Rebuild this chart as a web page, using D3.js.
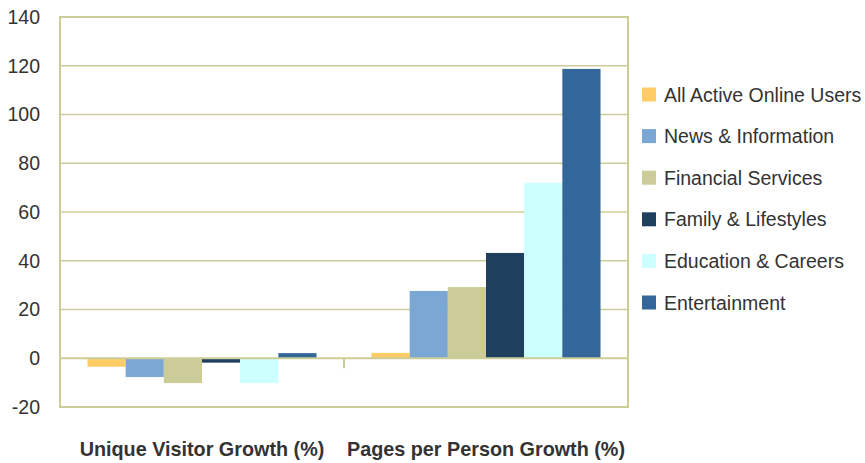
<!DOCTYPE html>
<html>
<head>
<meta charset="utf-8">
<script src="https://cdn.jsdelivr.net/npm/d3@7"></script>
<style>
  body { margin: 0; background: #fff; }
  text { font-family: "Liberation Sans", Arial, sans-serif; fill: #333; }
</style>
</head>
<body>
<script>
var categories = ["Unique Visitor Growth (%)", "Pages per Person Growth (%)"];
var series = ["All Active Online Users", "News & Information", "Financial Services",
              "Family & Lifestyles", "Education & Careers", "Entertainment"];
var colors = ["#FFCC66", "#7BA7D4", "#CCCC99", "#1F3F5F", "#CCFFFF", "#336699"];
// one array per category, in series order
var uniqueVisitor = [-3.5, -7.7, -10.2, -1.8, -10.2, 2.1];
var pagesPerPerson = [2.2, 27.6, 29.2, 43.2, 72, 118.7];
var yTicks = [-20, 0, 20, 40, 60, 80, 100, 120, 140];

var width = 865, height = 463,
    plotLeft = 60, plotRight = 628, plotTop = 17, plotBottom = 407,
    gridColor = "#CCCC99";

var values = [uniqueVisitor, pagesPerPerson];

var svg = d3.select("body").append("svg")
    .attr("width", width)
    .attr("height", height);

var y = d3.scaleLinear()
    .domain([-20, 140])
    .range([plotBottom, plotTop]);

var x0 = d3.scaleBand()
    .domain(categories)
    .range([plotLeft, plotRight]);

var x1 = d3.scaleBand()
    .domain(series)
    .range([0, x0.bandwidth()])
    .paddingOuter(0.72);

var color = d3.scaleOrdinal(series, colors);

// gridlines
svg.append("g")
    .attr("class", "grid")
    .selectAll("line")
    .data(yTicks.filter(function(d) { return d !== 0 && d !== -20 && d !== 140; }))
  .enter().append("line")
    .attr("x1", plotLeft)
    .attr("x2", plotRight)
    .attr("y1", function(d) { return y(d); })
    .attr("y2", function(d) { return y(d); })
    .attr("stroke", gridColor)
    .attr("stroke-width", 1.5);

// bars
var group = svg.selectAll(".group")
    .data(categories)
  .enter().append("g")
    .attr("class", "group")
    .attr("transform", function(d) { return "translate(" + x0(d) + ",0)"; });

group.selectAll("rect")
    .data(function(d, i) {
      return series.map(function(s, j) { return {series: s, value: values[i][j]}; });
    })
  .enter().append("rect")
    .attr("x", function(d) { return x1(d.series); })
    .attr("width", x1.bandwidth())
    .attr("y", function(d) { return y(Math.max(0, d.value)); })
    .attr("height", function(d) { return Math.abs(y(d.value) - y(0)); })
    .attr("fill", function(d) { return color(d.series); });

// frame
svg.append("rect")
    .attr("x", plotLeft)
    .attr("y", plotTop)
    .attr("width", plotRight - plotLeft)
    .attr("height", plotBottom - plotTop)
    .attr("fill", "none")
    .attr("stroke", gridColor)
    .attr("stroke-width", 2);

// zero line and the category divider tick
svg.append("line")
    .attr("x1", plotLeft).attr("x2", plotRight)
    .attr("y1", y(0)).attr("y2", y(0))
    .attr("stroke", gridColor)
    .attr("stroke-width", 2);

svg.append("line")
    .attr("x1", x0(categories[1])).attr("x2", x0(categories[1]))
    .attr("y1", y(0)).attr("y2", y(0) + 10)
    .attr("stroke", gridColor)
    .attr("stroke-width", 2);

// y axis labels (plain hyphen for negatives, like the original)
var yAxis = d3.axisLeft(y)
    .tickValues(yTicks)
    .tickFormat(function(d) { return String(d); })
    .tickSize(0)
    .tickPadding(20);

var yg = svg.append("g")
    .attr("transform", "translate(" + plotLeft + ",0)")
    .call(yAxis);
yg.select(".domain").remove();
yg.selectAll("text")
    .style("font-family", "'Liberation Sans', Arial, sans-serif")
    .style("font-size", "19.5px")
    .attr("fill", "#333");

// category labels
svg.selectAll(".cat")
    .data(categories)
  .enter().append("text")
    .attr("class", "cat")
    .attr("x", function(d) { return x0(d) + x0.bandwidth() / 2; })
    .attr("y", 456)
    .attr("text-anchor", "middle")
    .style("font-size", "19.8px")
    .style("font-weight", "bold")
    .text(function(d) { return d; });

// legend
var legend = svg.selectAll(".legend")
    .data(series)
  .enter().append("g")
    .attr("class", "legend")
    .attr("transform", function(d, i) { return "translate(642," + (101.5 + i * 41.6) + ")"; });

legend.append("rect")
    .attr("x", 0)
    .attr("y", -14)
    .attr("width", 14)
    .attr("height", 14)
    .attr("fill", function(d) { return color(d); });

legend.append("text")
    .attr("x", 22)
    .attr("y", 0)
    .style("font-size", "19.5px")
    .text(function(d) { return d; });
</script>
</body>
</html>
